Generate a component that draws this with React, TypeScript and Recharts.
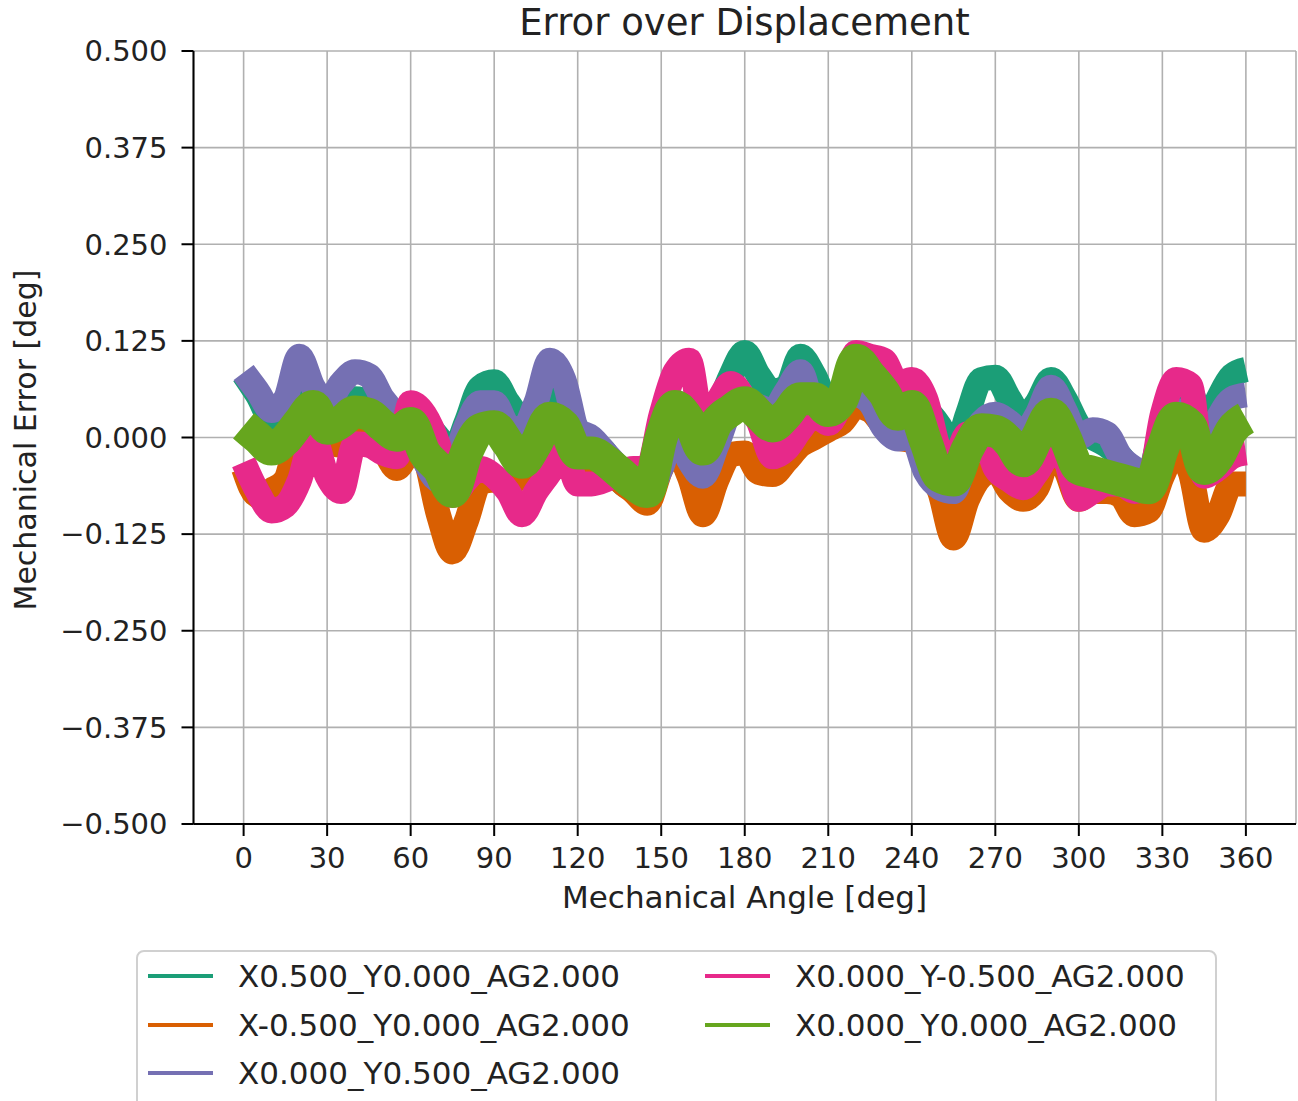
import React from 'react';
import { LineChart, Line, XAxis, YAxis, CartesianGrid } from 'recharts';

// mechanical angle samples [deg]
const angles = [
  0, 5, 10, 15, 20, 25, 30, 35, 40, 45, 50, 55,
  60, 65, 70, 75, 80, 85, 90, 95, 100, 105, 110, 115,
  120, 125, 130, 135, 140, 145, 150, 155, 160, 165, 170, 175,
  180, 185, 190, 195, 200, 205, 210, 215, 220, 225, 230, 235,
  240, 245, 250, 255, 260, 265, 270, 275, 280, 285, 290, 295,
  300, 305, 310, 315, 320, 325, 330, 335, 340, 345, 350, 355,
  360,
];

// X0.500_Y0.000_AG2.000
const xPos = [
  0.082, 0.055, 0.025, 0.03, 0.065, 0.05, 0.03, 0.045, 0.05, 0.045, 0.02, 0.01,
  0.03, 0.02, 0.0, -0.02, 0.02, 0.065, 0.072, 0.045, 0.025, 0.03, 0.06, 0.04,
  0.01, -0.005, -0.02, -0.055, -0.065, -0.06, -0.03, 0.045, 0.03, -0.015, 0.035, 0.08,
  0.11, 0.08, 0.06, 0.065, 0.105, 0.08, 0.045, 0.055, 0.09, 0.08, 0.06, 0.035,
  0.04, 0.035, 0.015, -0.02, 0.03, 0.075, 0.078, 0.05, 0.025, 0.045, 0.075, 0.05,
  0.015, 0.0, -0.01, -0.025, -0.045, -0.045, 0.015, 0.065, 0.06, 0.01, 0.05, 0.08,
  0.088,
];

// X-0.500_Y0.000_AG2.000
const xNeg = [
  -0.04, -0.075, -0.068, -0.055, 0.01, 0.045, -0.005, -0.01, 0.0, 0.0, -0.015, -0.04,
  -0.02, -0.03, -0.1, -0.148, -0.108, -0.058, -0.055, -0.06, -0.05, -0.04, 0.0, -0.01,
  -0.04, -0.03, -0.03, -0.055, -0.07, -0.085, -0.04, -0.015, -0.05, -0.1, -0.055, -0.022,
  -0.02, -0.045, -0.048, -0.03, -0.01, 0.0, 0.01, 0.02, 0.04, 0.035, 0.015, 0.0,
  -0.005, -0.03, -0.07, -0.13, -0.08, -0.05, -0.042, -0.068, -0.08, -0.065, -0.02, -0.04,
  -0.08, -0.07, -0.07, -0.075, -0.1, -0.095, -0.05, -0.018, -0.045, -0.12, -0.1, -0.06,
  -0.06,
];

// X0.000_Y0.500_AG2.000
const yPos = [
  0.084, 0.06, 0.035, 0.05, 0.105, 0.065, 0.045, 0.07, 0.085, 0.08, 0.05, 0.03,
  0.02, -0.03, -0.055, -0.035, 0.015, 0.045, 0.045, 0.015, 0.01, 0.045, 0.1, 0.075,
  0.01, 0.0, -0.02, -0.04, -0.06, -0.07, -0.04, 0.01, -0.03, -0.05, -0.01, 0.035,
  0.045, 0.04, 0.035, 0.06, 0.085, 0.04, 0.045, 0.05, 0.055, 0.045, 0.012, -0.002,
  0.0, -0.045, -0.065, -0.07, -0.02, 0.02, 0.03, 0.02, 0.005, 0.03, 0.065, 0.035,
  0.0, 0.01, 0.005, -0.025, -0.04, -0.05, 0.0, 0.035, 0.0, -0.015, 0.025, 0.05,
  0.055,
];

// X0.000_Y-0.500_AG2.000
const yNeg = [
  -0.032, -0.07, -0.095, -0.088, -0.056, 0.0, -0.05, -0.07, -0.008, -0.01, -0.02, -0.025,
  0.045, 0.03, -0.01, -0.075, -0.055, -0.04, -0.05, -0.07, -0.1, -0.07, -0.045, -0.015,
  -0.06, -0.06, -0.055, -0.045, -0.04, -0.04, 0.03, 0.085, 0.1, 0.015, 0.045, 0.07,
  0.05, 0.02, -0.025, -0.015, 0.01, 0.03, 0.018, 0.05, 0.11, 0.105, 0.1, 0.07,
  0.075, 0.05, -0.015, -0.028, 0.005, 0.005, -0.04, -0.055, -0.065, -0.045, -0.02, -0.03,
  -0.08, -0.07, -0.06, -0.06, -0.07, -0.06, 0.03, 0.075, 0.068, -0.05, -0.04, -0.025,
  -0.02,
];

// X0.000_Y0.000_AG2.000
const centered = [
  0.015, 0.0, -0.015, -0.003, 0.02, 0.04, 0.012, 0.02, 0.033, 0.03, 0.015, 0.003,
  0.018, -0.02, -0.04, -0.07, -0.02, 0.01, 0.014, -0.008, -0.032, -0.008, 0.025, 0.015,
  -0.02, -0.02, -0.03, -0.045, -0.06, -0.07, 0.0, 0.04, 0.022, -0.015, 0.02, 0.035,
  0.045, 0.03, 0.015, 0.03, 0.05, 0.05, 0.035, 0.05, 0.1, 0.08, 0.058, 0.03,
  0.04, -0.005, -0.05, -0.055, -0.015, 0.01, 0.008, -0.006, -0.03, 0.0, 0.03, 0.0,
  -0.04, -0.045, -0.05, -0.055, -0.06, -0.065, -0.015, 0.025, 0.015, -0.04, -0.025, 0.01,
  0.025,
];

const xTicks = [0, 30, 60, 90, 120, 150, 180, 210, 240, 270, 300, 330, 360];
const yTicks = [-0.5, -0.375, -0.25, -0.125, 0, 0.125, 0.25, 0.375, 0.5];

const series = [
  { key: 'xPos', name: 'X0.500_Y0.000_AG2.000', color: '#1b9e77', width: 25 },
  { key: 'xNeg', name: 'X-0.500_Y0.000_AG2.000', color: '#d95f02', width: 25 },
  { key: 'yPos', name: 'X0.000_Y0.500_AG2.000', color: '#7570b3', width: 25 },
  { key: 'yNeg', name: 'X0.000_Y-0.500_AG2.000', color: '#e7298a', width: 25 },
  { key: 'centered', name: 'X0.000_Y0.000_AG2.000', color: '#66a61e', width: 33 },
];

const data = angles.map((angle, i) => ({
  angle,
  xPos: xPos[i],
  xNeg: xNeg[i],
  yPos: yPos[i],
  yNeg: yNeg[i],
  centered: centered[i],
}));

const font = '"DejaVu Sans", sans-serif';
const tickStyle = { fontSize: 29, fill: '#222', fontFamily: font };

const fmtY = (v: number) => (v < 0 ? '\u2212' : '') + Math.abs(v).toFixed(3);

// legend is laid out column-first like matplotlib (ncol=2)
const legendCols = [
  [series[0], series[1], series[2]],
  [series[3], series[4]],
];

const App: React.FC = () => {
  return (
    <div
      style={{
        position: 'absolute',
        left: 0,
        top: 0,
        width: 1298,
        height: 1101,
        overflow: 'hidden',
        background: '#fff',
        fontFamily: font,
        color: '#222',
      }}
    >
      <div
        style={{
          position: 'absolute',
          left: 193,
          top: 1,
          width: 1103,
          textAlign: 'center',
          fontSize: 37,
          lineHeight: '44px',
        }}
      >
        Error over Displacement
      </div>

      <div style={{ position: 'absolute', left: 0, top: 0 }}>
        <LineChart
          width={1298}
          height={930}
          data={data}
          margin={{ top: 51, right: 2, bottom: 46, left: 0 }}
        >
          <CartesianGrid stroke="#b0b0b0" strokeWidth={1.6} />
          <XAxis
            dataKey="angle"
            type="number"
            domain={[-18, 378]}
            ticks={xTicks}
            allowDataOverflow
            height={60}
            tick={tickStyle}
            tickSize={12}
            tickMargin={11}
            axisLine={{ stroke: '#000', strokeWidth: 2 }}
            tickLine={{ stroke: '#000', strokeWidth: 2 }}
          />
          <XAxis
            xAxisId="top"
            orientation="top"
            type="number"
            domain={[-18, 378]}
            height={0}
            tick={false}
            tickLine={false}
            axisLine={{ stroke: '#000', strokeWidth: 2 }}
          />
          <YAxis
            type="number"
            domain={[-0.5, 0.5]}
            ticks={yTicks}
            allowDataOverflow
            width={193.5}
            tick={tickStyle}
            tickFormatter={fmtY}
            tickSize={12}
            tickMargin={14}
            axisLine={{ stroke: '#000', strokeWidth: 2 }}
            tickLine={{ stroke: '#000', strokeWidth: 2 }}
          />
          <YAxis
            yAxisId="right"
            orientation="right"
            type="number"
            domain={[-0.5, 0.5]}
            width={0}
            tick={false}
            tickLine={false}
            axisLine={{ stroke: '#000', strokeWidth: 2 }}
          />
          {series.map((s) => (
            <Line
              key={s.key}
              type="monotoneX"
              dataKey={s.key}
              name={s.name}
              stroke={s.color}
              strokeWidth={s.width}
              strokeLinecap="butt"
              strokeLinejoin="round"
              dot={false}
              activeDot={false}
              isAnimationActive={false}
            />
          ))}
        </LineChart>
      </div>

      <div
        style={{
          position: 'absolute',
          left: 193,
          top: 879,
          width: 1103,
          textAlign: 'center',
          fontSize: 31,
          lineHeight: '36px',
        }}
      >
        Mechanical Angle [deg]
      </div>

      <div
        style={{
          position: 'absolute',
          left: 26,
          top: 440,
          transform: 'translate(-50%, -50%) rotate(-90deg)',
          whiteSpace: 'nowrap',
          fontSize: 30,
          lineHeight: '36px',
        }}
      >
        Mechanical Error [deg]
      </div>

      <div
        style={{
          position: 'absolute',
          left: 136,
          top: 950,
          width: 1081,
          height: 180,
          border: '2px solid #d0d0d0',
          borderRadius: 8,
          boxSizing: 'border-box',
        }}
      >
        {legendCols.map((col, ci) => (
          <div key={ci} style={{ position: 'absolute', left: ci === 0 ? 10 : 567, top: 0 }}>
            {col.map((s, ri) => (
              <div
                key={s.key}
                style={{
                  position: 'absolute',
                  top: 4 + ri * 48.5,
                  left: 0,
                  display: 'flex',
                  alignItems: 'center',
                  height: 40,
                  whiteSpace: 'nowrap',
                }}
              >
                <div style={{ width: 65, height: 4, background: s.color, marginRight: 25 }} />
                <span style={{ fontSize: 31 }}>{s.name}</span>
              </div>
            ))}
          </div>
        ))}
      </div>
    </div>
  );
};

export default App;
